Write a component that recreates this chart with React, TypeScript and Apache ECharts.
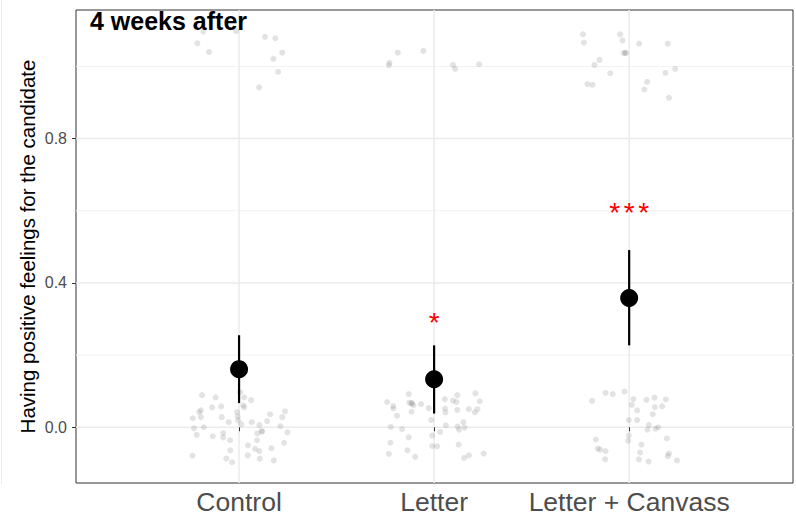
import React, { useEffect, useRef } from "react";
import * as echarts from "echarts";

const categories = ["Control", "Letter", "Letter + Canvass"];
const means = [0.161, 0.133, 0.358];
const lower = [0.067, 0.038, 0.227];
const upper = [0.255, 0.227, 0.491];
const starCounts = [0, 1, 3];
const starY = [0, 0.305, 0.61];
const yTicks = [0, 0.4, 0.8];
const yMinor = [0.2, 0.6, 1.0];
const xTicks = [1, 2, 3];

const controlPoints = [
  [0.81, 0.089], [0.88, 0.083], [1.005, 0.097], [1.026, 0.083], [1.062, 0.075], [0.796, 0.042], [0.804, 0.047],
  [0.862, 0.055], [0.908, 0.058], [1.021, 0.061], [1.026, 0.055], [0.99, 0.042], [1.236, 0.044], [1.159, 0.036],
  [0.763, 0.025], [0.804, 0.028], [0.911, 0.028], [0.993, 0.03], [0.995, 0.019], [1.221, 0.028], [0.947, 0.014],
  [1.012, 0.008], [1.065, 0.014], [1.104, 0.006], [1.144, 0.017], [1.212, 0.003], [0.769, -0.003], [0.819, 0.0],
  [1.116, -0.011], [1.118, -0.012], [1.094, -0.017], [1.248, -0.014], [0.783, -0.021], [0.919, -0.016],
  [0.865, -0.025], [0.919, -0.028], [0.954, -0.036], [1.092, -0.036], [1.231, -0.043], [1.046, -0.05],
  [1.082, -0.06], [1.166, -0.058], [0.955, -0.064], [1.104, -0.066], [0.761, -0.079], [1.045, -0.078],
  [0.935, -0.087], [1.106, -0.087], [0.964, -0.097], [1.178, -0.092],
  [0.817, 1.097], [0.985, 1.098], [0.786, 1.064], [0.846, 1.04], [1.133, 1.082], [1.186, 1.078], [1.221, 1.038],
  [1.176, 1.021], [1.2, 0.985], [1.103, 0.942],
];

const letterPoints = [
  [1.814, 1.038], [1.945, 1.043], [1.771, 1.01], [1.768, 1.003], [2.097, 1.004], [2.108, 0.993], [2.231, 1.006],
  [1.87, 0.092], [2.212, 0.094], [2.119, 0.089], [1.759, 0.07], [1.79, 0.059], [1.791, 0.052], [1.873, 0.068],
  [1.884, 0.066], [1.886, 0.067], [1.894, 0.061], [1.933, 0.064], [1.973, 0.053], [2.055, 0.078], [2.096, 0.074],
  [2.114, 0.07], [2.234, 0.072], [1.884, 0.043], [1.81, 0.032], [2.056, 0.052], [2.058, 0.041], [2.119, 0.048],
  [2.178, 0.05], [2.222, 0.05], [2.209, 0.041], [1.985, 0.02], [1.778, 0.001], [1.836, -0.005], [2.06, 0.005],
  [2.121, 0.002], [2.15, 0.014], [2.156, -0.001], [2.128, -0.007], [2.031, -0.013], [1.99, -0.023],
  [1.87, -0.028], [1.776, -0.043], [1.99, -0.052], [2.015, -0.053], [2.126, -0.048], [1.863, -0.064],
  [1.768, -0.074], [1.903, -0.082], [2.178, -0.078], [2.154, -0.085], [2.254, -0.073],
];

const canvassPoints = [
  [2.763, 1.089], [2.768, 1.066], [2.954, 1.089], [2.966, 1.072], [3.051, 1.063], [3.198, 1.063], [2.971, 1.037],
  [2.981, 1.038], [2.983, 1.037], [2.848, 1.018], [2.822, 1.004], [2.903, 0.981], [3.186, 0.982], [3.236, 0.993],
  [3.092, 0.957], [3.078, 0.936], [2.786, 0.951], [2.812, 0.949], [3.204, 0.913],
  [2.879, 0.095], [2.916, 0.092], [2.976, 0.099], [2.81, 0.073], [3.022, 0.078], [3.089, 0.076], [3.13, 0.082],
  [3.188, 0.077], [3.014, 0.062], [3.132, 0.056], [3.169, 0.058], [3.041, 0.047], [3.121, 0.036], [2.998, 0.02],
  [3.041, 0.02], [3.101, 0.006], [3.094, -0.007], [3.135, -0.004], [3.149, 0.0], [2.998, -0.023],
  [2.995, -0.038], [2.829, -0.034], [3.193, -0.031], [3.063, -0.048], [2.839, -0.059], [2.851, -0.062],
  [2.879, -0.066], [3.056, -0.07], [3.204, -0.073], [3.198, -0.08], [2.877, -0.089], [3.05, -0.089],
  [3.099, -0.095], [3.245, -0.092],
];

const FONT = "'Liberation Sans', Arial, Helvetica, sans-serif";

// grid line rows: [axis (0 = y, 1 = x), value, major flag]
const gridRows = [
  ...yMinor.map((v) => [0, v, 0]),
  ...yTicks.map((v) => [0, v, 1]),
  ...xTicks.map((v) => [1, v, 1]),
];

export default function App() {
  const ref = useRef<HTMLDivElement>(null);
  useEffect(() => {
    if (!ref.current) return;
    const chart = echarts.init(ref.current, null, { renderer: "svg" });
    const jitterStyle = { color: "rgba(127,127,127,0.22)", opacity: 1 };
    const option: any = {
      animation: false,
      backgroundColor: "#ffffff",
      textStyle: { fontFamily: FONT },
      title: {
        text: "4 weeks after",
        left: 90,
        top: 8,
        padding: 0,
        textStyle: { fontFamily: FONT, fontSize: 25, fontWeight: "bold", color: "#000" },
        z: 10,
      },
      graphic: [
        { type: "rect", shape: { x: 1, y: 0, width: 1, height: 484 }, style: { fill: "#ececec" }, silent: true },
      ],
      grid: {
        left: 76,
        right: 3,
        top: 10,
        bottom: 37,
        show: true,
        borderColor: "#333333",
        borderWidth: 1,
        backgroundColor: "transparent",
      },
      xAxis: {
        type: "value",
        min: 0.164,
        max: 3.84,
        splitLine: { show: false },
        axisLine: { show: false },
        axisTick: { show: true, length: 4, customValues: xTicks, lineStyle: { color: "#333333", width: 1 } },
        axisLabel: {
          customValues: xTicks,
          formatter: (v: number) => categories[Math.round(v) - 1] || "",
          fontSize: 26.5,
          color: "#4d4d4d",
          margin: 5,
          fontFamily: FONT,
        },
      },
      yAxis: {
        type: "value",
        min: -0.1545,
        max: 1.1563,
        name: "Having positive feelings for the candidate",
        nameLocation: "middle",
        nameGap: 38,
        nameMoveOverlap: false,
        nameTextStyle: { fontSize: 20.5, color: "#000", fontFamily: FONT },
        splitLine: { show: false },
        axisLine: { show: false },
        axisTick: { show: true, length: 4, customValues: yTicks, lineStyle: { color: "#333333", width: 1 } },
        axisLabel: {
          customValues: yTicks,
          formatter: (v: number) => v.toFixed(1),
          fontSize: 16,
          color: "#4d4d4d",
          margin: 9,
          fontFamily: FONT,
        },
      },
      series: [
        {
          type: "custom",
          z: 0,
          silent: true,
          data: gridRows,
          encode: { x: 1, y: 1 },
          renderItem: (params: any, api: any) => {
            const cs = params.coordSys;
            const isX = api.value(0) === 1;
            const v = api.value(1);
            const major = api.value(2) === 1;
            const style = { stroke: major ? "#ebebeb" : "#f2f2f2", lineWidth: major ? 1.5 : 1 };
            if (isX) {
              const px = api.coord([v, 0])[0];
              return { type: "line", shape: { x1: px, y1: cs.y, x2: px, y2: cs.y + cs.height }, style };
            }
            const py = api.coord([1, v])[1];
            return { type: "line", shape: { x1: cs.x, y1: py, x2: cs.x + cs.width, y2: py }, style };
          },
        },
        { type: "scatter", data: controlPoints, symbolSize: 6, itemStyle: jitterStyle, z: 2, silent: true },
        { type: "scatter", data: letterPoints, symbolSize: 6, itemStyle: jitterStyle, z: 2, silent: true },
        { type: "scatter", data: canvassPoints, symbolSize: 6, itemStyle: jitterStyle, z: 2, silent: true },
        {
          type: "custom",
          z: 3,
          silent: true,
          encode: { x: 0, y: [1, 2] },
          data: categories.map((_, i) => [i + 1, lower[i], upper[i]]),
          renderItem: (params: any, api: any) => {
            const x = api.value(0);
            const p1 = api.coord([x, api.value(1)]);
            const p2 = api.coord([x, api.value(2)]);
            return {
              type: "line",
              shape: { x1: p1[0], y1: p1[1], x2: p2[0], y2: p2[1] },
              style: { stroke: "#000", lineWidth: 2.2 },
            };
          },
        },
        {
          type: "scatter",
          z: 4,
          silent: true,
          data: categories.map((_, i) => [i + 1, means[i]]),
          symbolSize: 18,
          itemStyle: { color: "#000", opacity: 1 },
        },
        {
          type: "custom",
          z: 5,
          silent: true,
          encode: { x: 0, y: 1 },
          data: categories.map((_, i) => [i + 1, starY[i], starCounts[i]]).filter((d) => d[2] > 0),
          renderItem: (params: any, api: any) => {
            const p = api.coord([api.value(0), api.value(1)]);
            const n = api.value(2);
            const children: any[] = [];
            for (let k = 0; k < n; k++) {
              children.push({
                type: "text",
                x: p[0] + (k - (n - 1) / 2) * 14.5,
                y: p[1] + 5,
                style: {
                  text: "*",
                  fill: "#ff0000",
                  fontSize: 28,
                  fontFamily: FONT,
                  align: "center",
                  verticalAlign: "middle",
                  textAlign: "center",
                  textVerticalAlign: "middle",
                },
              });
            }
            return { type: "group", children };
          },
        },
      ],
    };
    chart.setOption(option);
    return () => chart.dispose();
  }, []);
  return (
    <div
      ref={ref}
      style={{ position: "fixed", left: 0, top: 0, width: 796, height: 520, background: "#fff" }}
    />
  );
}
